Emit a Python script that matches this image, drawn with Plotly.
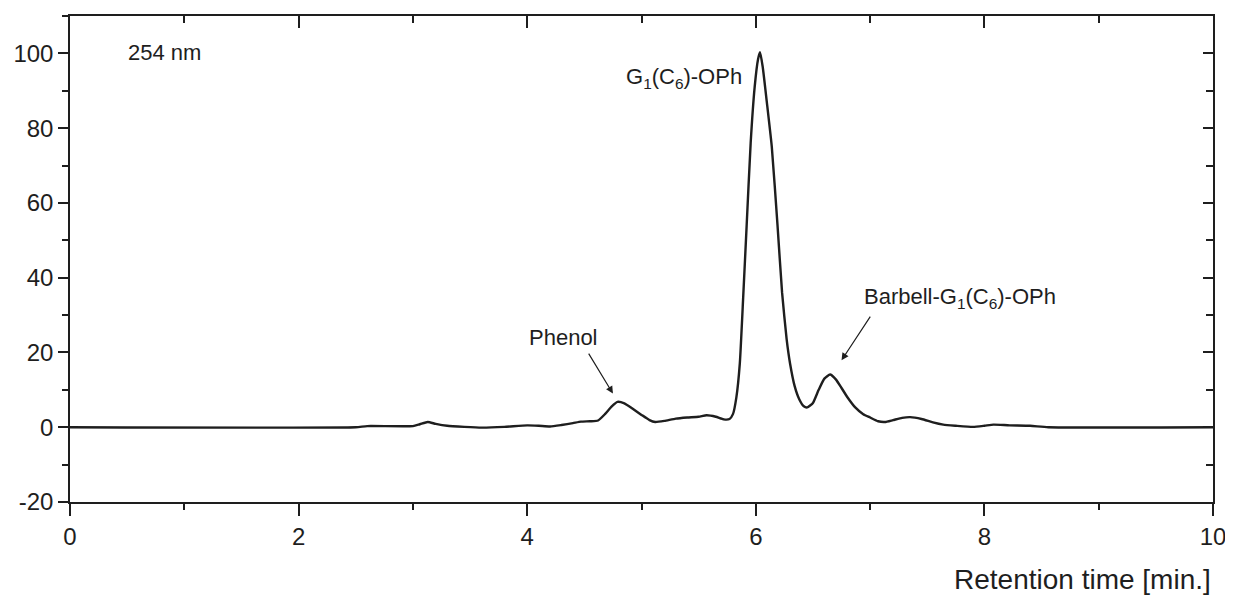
import plotly.graph_objects as go

# Retention time [min] and absorbance at 254 nm
time_min = [0, 2.5, 2.6, 3.0, 3.06, 3.13, 3.2, 3.3, 3.45, 3.6, 3.8, 4.0, 4.1, 4.2, 4.3, 4.4,
            4.47, 4.55, 4.62, 4.68, 4.74, 4.79, 4.85, 4.92, 5.0, 5.07, 5.12, 5.2, 5.3, 5.4,
            5.5, 5.57, 5.65, 5.72, 5.77, 5.80, 5.83, 5.86, 5.89, 5.92, 5.955, 5.99, 6.02,
            6.037, 6.06, 6.10, 6.14, 6.19, 6.23, 6.27, 6.30, 6.34, 6.38, 6.42, 6.45, 6.50,
            6.55, 6.60, 6.65, 6.70, 6.75, 6.80, 6.87, 6.94, 7.0, 7.07, 7.13, 7.2, 7.28, 7.35,
            7.45, 7.55, 7.64, 7.75, 7.9, 8.0, 8.08, 8.22, 8.4, 8.56, 10]
signal = [0, 0, 0.3, 0.3, 0.8, 1.4, 0.9, 0.4, 0.1, -0.1, 0.1, 0.5, 0.4, 0.2, 0.6, 1.1,
          1.5, 1.6, 1.8, 3.5, 5.6, 6.8, 6.4, 5.0, 3.3, 1.9, 1.4, 1.7, 2.3, 2.6,
          2.8, 3.2, 2.8, 2.1, 2.2, 3.5, 8, 17, 35, 54, 76, 91, 98.5,
          100.3, 96.5, 86, 75, 54, 36, 23.5, 17, 11, 7.5, 5.6, 5.3, 6.5,
          10, 13, 14.1, 12.8, 10.5, 8.1, 5.3, 3.5, 2.6, 1.6, 1.4, 1.9, 2.5, 2.7,
          2.2, 1.3, 0.7, 0.4, 0.1, 0.4, 0.7, 0.5, 0.4, 0, 0]

x_ticks = [0, 2, 4, 6, 8, 10]
y_ticks = [-20, 0, 20, 40, 60, 80, 100]
y_ticklabels = ["-20", "0", "20", "40", "60", "80", "100"]

ink = "#1e1e1e"
font = "Liberation Sans, Arial, sans-serif"

fig = go.Figure()
fig.add_trace(go.Scatter(x=time_min, y=signal, mode="lines",
                         line=dict(color=ink, width=2.4, shape="spline", smoothing=0.5),
                         hoverinfo="skip", showlegend=False))
# invisible trace to anchor mirrored (top/right) axes
fig.add_trace(go.Scatter(x=[0, 10], y=[-20, 110], xaxis="x2", yaxis="y2", mode="markers",
                         marker=dict(opacity=0), hoverinfo="skip", showlegend=False))

common = dict(showline=True, linecolor=ink, linewidth=1.5, showgrid=False, zeroline=False,
              tickcolor=ink, tickwidth=1.5, automargin=False)

# page body has an 8px margin, so the figure is sized/offset to compensate
fig.update_layout(
    width=1225, height=590,
    margin=dict(l=62, r=20, t=8, b=96),
    paper_bgcolor="white", plot_bgcolor="white",
    font=dict(family=font, color=ink, size=22),
    xaxis=dict(range=[0, 10], tickvals=x_ticks, ticks="outside", ticklen=12,
               tickfont=dict(size=24), minor=dict(dtick=1, ticks="outside", ticklen=6,
                                                 tickcolor=ink, tickwidth=1.5),
               **common),
    yaxis=dict(range=[-20, 110], tickvals=y_ticks, ticktext=y_ticklabels, ticks="outside",
               ticklen=10, tickfont=dict(size=24),
               minor=dict(dtick=10, ticks="outside", ticklen=6, tickcolor=ink, tickwidth=1.5),
               **common),
    xaxis2=dict(range=[0, 10], overlaying="x", side="top", tickvals=x_ticks, ticks="inside",
                ticklen=12, showticklabels=False,
                minor=dict(dtick=1, ticks="inside", ticklen=7, tickcolor=ink, tickwidth=1.5),
                **common),
    yaxis2=dict(range=[-20, 110], overlaying="y", side="right", tickvals=y_ticks,
                ticks="inside", ticklen=10, showticklabels=False,
                minor=dict(dtick=10, ticks="inside", ticklen=7, tickcolor=ink, tickwidth=1.5),
                **common),
)

annotations = [
    dict(x=0.49, y=100.3, text="254 nm", xanchor="left", yanchor="middle", showarrow=False),
    dict(x=4.85, y=93.5, text="G<sub>1</sub>(C<sub>6</sub>)-OPh", xanchor="left",
         yanchor="middle", showarrow=False),
    dict(x=6.93, y=34.5, text="Barbell-G<sub>1</sub>(C<sub>6</sub>)-OPh", xanchor="left",
         yanchor="middle", showarrow=False),
    dict(x=4.32, y=24, text="Phenol", xanchor="center", yanchor="middle", showarrow=False),
    # arrows
    dict(x=4.75, y=9.0, ax=4.53, ay=20.1, axref="x", ayref="y", text="", showarrow=True,
         arrowhead=2, arrowsize=1.2, arrowwidth=1.2, arrowcolor=ink),
    dict(x=6.75, y=17.9, ax=7.01, ay=30, axref="x", ayref="y", text="", showarrow=True,
         arrowhead=2, arrowsize=1.2, arrowwidth=1.2, arrowcolor=ink),
    # x-axis title, right aligned
    dict(x=1, y=-0.160, xref="paper", yref="paper", text="Retention time [min.]",
         xanchor="right", yanchor="middle", showarrow=False, font=dict(size=28)),
]
fig.update_layout(annotations=annotations)

fig.write_html("out.html")
